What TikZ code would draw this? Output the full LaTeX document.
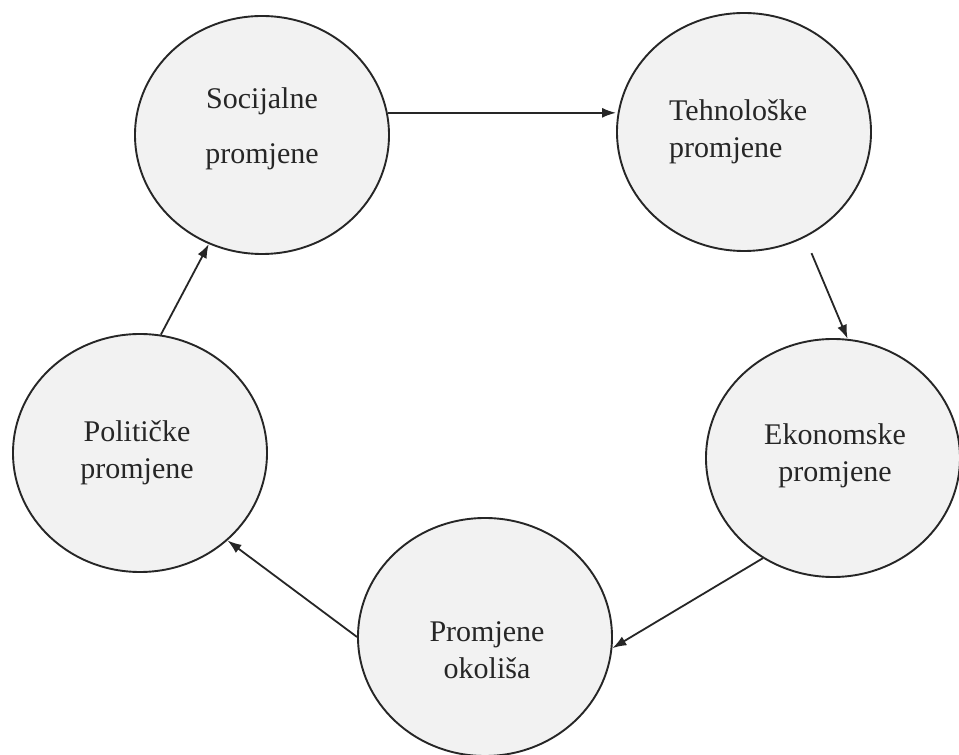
\documentclass[tikz,border=0pt]{standalone}
\usepackage{fontspec}
\setmainfont{Liberation Serif}
\usetikzlibrary{shapes.geometric,arrows.meta}
\begin{document}
\begin{tikzpicture}[x=1pt,y=1pt,
  bub/.style={ellipse,draw=black!85,line width=1.9pt,fill=black!5,minimum width=254pt,minimum height=238pt,inner sep=0pt},
  lbl/.style={font=\fontsize{30}{37}\selectfont,text=black!85,inner sep=0pt},
  conn/.style={draw=black!85,line width=1.8pt,-{Latex[length=14pt,width=10pt]}}]
\useasboundingbox[fill=white] (0,0) rectangle (959,755);
\node[bub] (soc) at (262,620) {};
\node[bub] (teh) at (744,623) {};
\node[bub] (eko) at (833,297) {};
\node[bub] (pol) at (140,302) {};
\node[bub] (pro) at (485,118) {};
\node[lbl,align=center] (socT) at (262,626) {Socijalne\\[18pt]promjene};
\node[lbl,align=left,anchor=west] (tehT) at (669,623) {Tehnološke\\promjene};
\node[lbl,align=center] (ekoT) at (835,299) {Ekonomske\\promjene};
\node[lbl,align=center] (polT) at (137,302) {Političke\\promjene};
\node[lbl,align=center] (proT) at (487,105) {Promjene\\okoliša};
\draw[conn] (soc.10) -- (soc.10 -| teh.west);
\draw[conn,shorten <=17pt] (teh.-60) -- (eko.83);
\draw[conn] (eko.235) -- (pro.-5);
\draw[conn] (pro.180) -- (pol.-45);
\draw[conn] (pol.80) -- (soc.-116);
\end{tikzpicture}
\end{document}
